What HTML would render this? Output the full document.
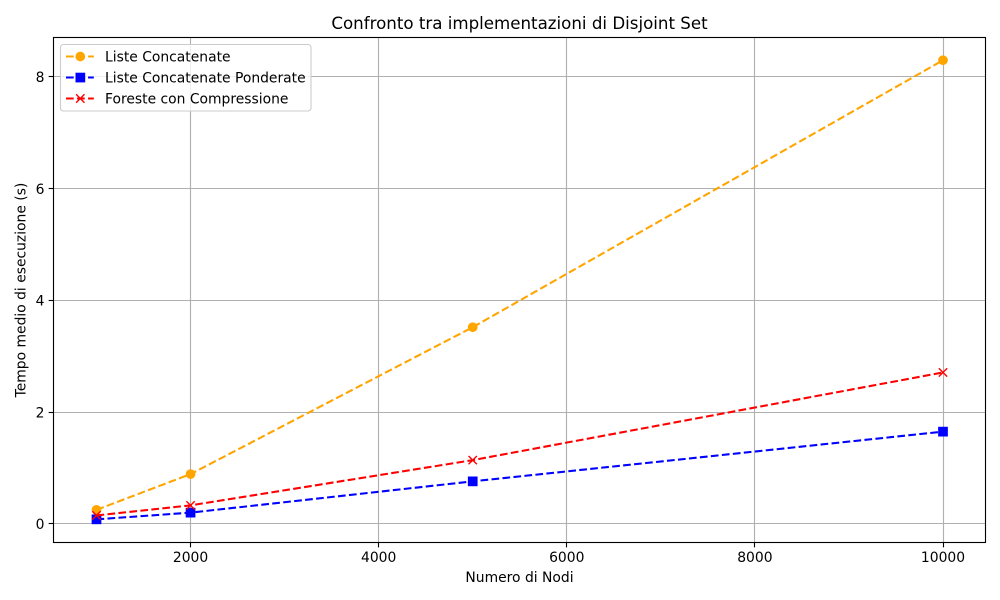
<!DOCTYPE html>
<html lang="it">
<head>
<meta charset="utf-8">
<title>Confronto tra implementazioni di Disjoint Set</title>
<style>
html,body{margin:0;padding:0;background:#fff;width:1000px;height:600px;overflow:hidden}
svg{display:block}
text{font-family:"DejaVu Sans","Liberation Sans",sans-serif;font-size:13.89px;fill:#000}
</style>
</head>
<body>
<svg id="chart" xmlns="http://www.w3.org/2000/svg" width="1000" height="600" viewBox="0 0 1000 600">
  <rect x="0" y="0" width="1000" height="600" fill="#fff"/>
  <rect x="53.5" y="37.5" width="932" height="505" fill="#fff"/>
  <g id="grid"></g>
  <g id="series"></g>
  <g id="spines">
    <rect x="53.5" y="37.5" width="932" height="505" fill="none" stroke="#000" stroke-width="1.11"/>
  </g>
  <g id="ticks"></g>
  <text x="519.5" y="29" text-anchor="middle" style="font-size:16.67px">Confronto tra implementazioni di Disjoint Set</text>
  <text x="519.5" y="582" text-anchor="middle">Numero di Nodi</text>
  <text transform="translate(25.5 290) rotate(-90)" text-anchor="middle">Tempo medio di esecuzione (s)</text>
  <g id="legend">
    <rect x="60.5" y="44.5" width="250.5" height="66.5" rx="3" ry="3" fill="#fff" fill-opacity="0.8" stroke="#ccc" stroke-width="1.11"/>
    <g>
      <line x1="66" y1="56.5" x2="93.8" y2="56.5" stroke="#ffa500" stroke-width="2.08" stroke-dasharray="7.7 3.33"/>
      <circle cx="80.3" cy="56.5" r="4.86" fill="#ffa500"/>
      <text x="105" y="61.5">Liste Concatenate</text>
    </g>
    <g>
      <line x1="66" y1="77.5" x2="93.8" y2="77.5" stroke="#0000ff" stroke-width="2.08" stroke-dasharray="7.7 3.33"/>
      <rect x="75.5" y="72.7" width="9.7" height="9.7" fill="#0000ff"/>
      <text x="105" y="82.5">Liste Concatenate Ponderate</text>
    </g>
    <g>
      <line x1="66" y1="98.5" x2="93.8" y2="98.5" stroke="#ff0000" stroke-width="2.08" stroke-dasharray="7.7 3.33"/>
      <path d="M76.1 94.3L84.5 102.7M76.1 102.7L84.5 94.3" stroke="#ff0000" stroke-width="1.39" fill="none"/>
      <text x="105" y="103.5">Foreste con Compressione</text>
    </g>
  </g>
</svg>
<script>
const nodes = [1000, 2000, 5000, 10000];
const listeConcatenate = [0.25, 0.89, 3.52, 8.30];
const listePonderate = [0.08, 0.20, 0.76, 1.65];
const foresteCompressione = [0.15, 0.33, 1.14, 2.71];
const xTickValues = [2000, 4000, 6000, 8000, 10000];
const yTickValues = [0, 2, 4, 6, 8];

const NS = 'http://www.w3.org/2000/svg';
const xScale = v => 96.5 + (v - 1000) * (846.5 / 9000);
const yScale = v => 523.8 - v * 55.85;
const snap = v => Math.floor(v) + 0.5;
const PLOT = { left: 53.5, right: 985.5, top: 37.5, bottom: 542.5 };

function make(tag, attrs, parent) {
  const el = document.createElementNS(NS, tag);
  for (const k in attrs) el.setAttribute(k, attrs[k]);
  parent.appendChild(el);
  return el;
}

const gridLayer = document.getElementById('grid');
const tickLayer = document.getElementById('ticks');
const seriesLayer = document.getElementById('series');

xTickValues.forEach(v => {
  const x = snap(xScale(v));
  const g = make('line', { x1: x, x2: x, y1: PLOT.top, y2: PLOT.bottom, stroke: '#b0b0b0', 'stroke-width': 1.11 }, gridLayer);
  
  
  const t = make('line', { x1: x, x2: x, y1: PLOT.bottom, y2: PLOT.bottom + 4.86, stroke: '#000', 'stroke-width': 1.11 }, tickLayer);
  
  
  const l = make('text', { x: xScale(v), y: 562, 'text-anchor': 'middle' }, tickLayer);
  
  
  l.textContent = String(v);
});

yTickValues.forEach(v => {
  const y = snap(yScale(v));
  const g = make('line', { x1: PLOT.left, x2: PLOT.right, y1: y, y2: y, stroke: '#b0b0b0', 'stroke-width': 1.11 }, gridLayer);
  
  
  const t = make('line', { x1: PLOT.left - 4.86, x2: PLOT.left, y1: y, y2: y, stroke: '#000', 'stroke-width': 1.11 }, tickLayer);
  
  
  const l = make('text', { x: 44.5, y: yScale(v) + 5.2, 'text-anchor': 'end' }, tickLayer);
  
  
  l.textContent = String(v);
});

function drawSeries(values, color, marker, name) {
  const group = make('g', {}, seriesLayer);
  
  
  const pts = values.map((v, i) => xScale(nodes[i]) + ',' + yScale(v)).join(' ');
  const line = make('polyline', { points: pts, fill: 'none', stroke: color, 'stroke-width': 2.08, 'stroke-dasharray': '7.7 3.33' }, group);
  
  
  values.forEach((v, i) => {
    const x = xScale(nodes[i]);
    const y = yScale(v);
    let m;
    if (marker === 'circle') {
      m = make('circle', { cx: x, cy: y, r: 4.86, fill: color }, group);
    } else if (marker === 'square') {
      m = make('rect', { x: x - 4.86, y: y - 4.86, width: 9.72, height: 9.72, fill: color }, group);
    } else {
      const d = 4.17;
      m = make('path', { d: 'M' + (x - d) + ' ' + (y - d) + 'L' + (x + d) + ' ' + (y + d) + 'M' + (x - d) + ' ' + (y + d) + 'L' + (x + d) + ' ' + (y - d), stroke: color, 'stroke-width': 1.39, fill: 'none' }, group);
    }
    
    
  });
}

drawSeries(listeConcatenate, '#ffa500', 'circle', 'liste-concatenate');
drawSeries(listePonderate, '#0000ff', 'square', 'liste-ponderate');
drawSeries(foresteCompressione, '#ff0000', 'x', 'foreste-compressione');
</script>
</body>
</html>
